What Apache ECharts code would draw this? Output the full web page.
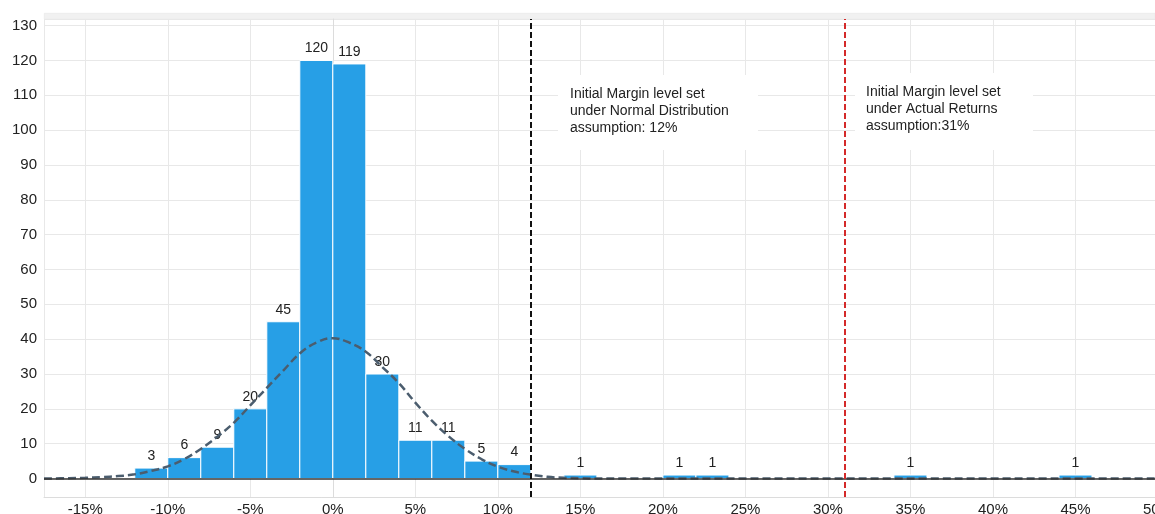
<!DOCTYPE html>
<html>
<head>
<meta charset="utf-8">
<title>Return distribution</title>
<script src="https://cdn.jsdelivr.net/npm/echarts@6/dist/echarts.min.js"></script>
<style>
  html, body { margin: 0; padding: 0; background: #fff; }
  #chart { width: 1155px; height: 514px; }
</style>
</head>
<body>
<div id="chart"></div>
<script>
// histogram bins (percent), each bin 2% wide
var binStart = [-12, -10, -8, -6, -4, -2, 0, 2, 4, 6, 8, 10, 14, 20, 22, 34, 44]
var binEnd = [-10, -8, -6, -4, -2, 0, 2, 4, 6, 8, 10, 12, 16, 22, 24, 36, 46]
var counts = [3, 6, 9, 20, 45, 120, 119, 30, 11, 11, 5, 4, 1, 1, 1, 1, 1]

// normal curve
var curveX = [-17.5, -16, -15, -14, -13, -12, -11, -10, -9, -8, -7, -6, -5, -4, -3, -2, -1, 0,
  1, 2, 3, 4, 5, 6, 7, 8, 9, 10, 11, 12, 13, 14, 15, 16, 50]
var curveY = [0, 0.1, 0.2, 0.4, 0.7, 1.2, 2.2, 3.5, 5.6, 8.5, 12, 16, 21, 26, 31, 35.9, 39, 40.3,
  39, 36.4, 32, 27.4, 21.8, 16.6, 12.2, 8.5, 5.6, 3.4, 2.0, 1.1, 0.5, 0.2, 0.1, 0, 0]

// margin levels (percent)
var normalLevel = 12
var actualLevel = 31
var normalNote = ['Initial Margin level set', 'under Normal Distribution', 'assumption: 12%']
var actualNote = ['Initial Margin level set', 'under Actual Returns', 'assumption:31%']

var font = 'Arial, "Liberation Sans", sans-serif'
var barColor = '#279fe6'

var myChart = echarts.init(document.getElementById('chart'))

function renderBin(params, api) {
  var topLeft = api.coord([api.value(0), api.value(2)])
  var bottomRight = api.coord([api.value(1), 0])
  var w = bottomRight[0] - topLeft[0]
  return {
    type: 'group',
    children: [
      {
        type: 'rect',
        shape: { x: topLeft[0], y: topLeft[1], width: w, height: bottomRight[1] - topLeft[1] },
        style: { fill: barColor, stroke: '#fff', lineWidth: 1 }
      },
      {
        type: 'text',
        style: {
          text: String(api.value(2)),
          x: topLeft[0] + w / 2,
          y: topLeft[1] - 5,
          textAlign: 'center',
          textVerticalAlign: 'bottom',
          font: '14px ' + font,
          fill: '#222'
        }
      }
    ]
  }
}

function noteText(lines, left, top) {
  return lines.map(function (t, i) {
    return {
      type: 'text',
      left: left,
      top: top + i * 17,
      z: 110,
      style: { text: t, font: '14px ' + font, fill: '#222' }
    }
  })
}

var option = {
  animation: false,
  backgroundColor: '#fff',
  grid: { left: 44, right: -3, top: 19, bottom: 17, outerBoundsMode: 'none', containLabel: false },
  xAxis: {
    type: 'value',
    min: -17.5,
    max: 50,
    minInterval: 5,
    maxInterval: 5,
    splitNumber: 13,
    axisLine: { onZero: false, lineStyle: { color: '#dcdcdc' } },
    axisTick: { show: false },
    axisLabel: {
      showMinLabel: false,
      margin: 5,
      fontSize: 15,
      fontFamily: font,
      color: '#222',
      formatter: function (v) { return v + '%' }
    },
    splitLine: { lineStyle: { color: '#e8e8e8' } }
  },
  yAxis: {
    type: 'value',
    min: -5.3,
    max: 131.9,
    minInterval: 10,
    maxInterval: 10,
    splitNumber: 14,
    axisLine: { show: true, lineStyle: { color: '#dcdcdc' } },
    axisTick: { show: false },
    axisLabel: {
      showMinLabel: false,
      showMaxLabel: false,
      margin: 7,
      fontSize: 15,
      fontFamily: font,
      color: '#222'
    },
    splitLine: { lineStyle: { color: '#e8e8e8' } }
  },
  series: [
    {
      type: 'custom',
      renderItem: renderBin,
      data: binStart.map(function (s, i) { return [s, binEnd[i], counts[i]] }),
      encode: { x: [0, 1], y: 2 },
      z: 2
    },
    {
      type: 'line',
      data: curveX.map(function (x, i) { return [x, curveY[i]] }),
      smooth: 0.4,
      symbol: 'none',
      lineStyle: { color: '#4b5d6e', width: 2.5, type: [8, 4] },
      z: 4,
      markLine: {
        silent: true,
        symbol: ['none', 'none'],
        label: { show: false },
        data: [
          { yAxis: 0, lineStyle: { color: '#333', type: 'solid', width: 1.5 } },
          { xAxis: normalLevel, lineStyle: { color: '#111', type: [6, 3], width: 2 } },
          { xAxis: actualLevel, lineStyle: { color: '#d42a2a', type: [6, 3], width: 2 } }
        ]
      }
    }
  ],
  graphic: [
    {
      type: 'rect',
      left: 44, top: 13,
      shape: { width: 1111, height: 6 },
      style: { fill: '#f1f1f1', stroke: '#e2e2e2', lineWidth: 0.5 }
    },
    {
      type: 'rect',
      left: 558, top: 75, z: 100,
      shape: { width: 200, height: 75 },
      style: { fill: '#fff' }
    },
    {
      type: 'rect',
      left: 855, top: 73, z: 100,
      shape: { width: 178, height: 77 },
      style: { fill: '#fff' }
    }
  ].concat(noteText(normalNote, 570, 87)).concat(noteText(actualNote, 866, 85))
}

myChart.setOption(option)
</script>
</body>
</html>
